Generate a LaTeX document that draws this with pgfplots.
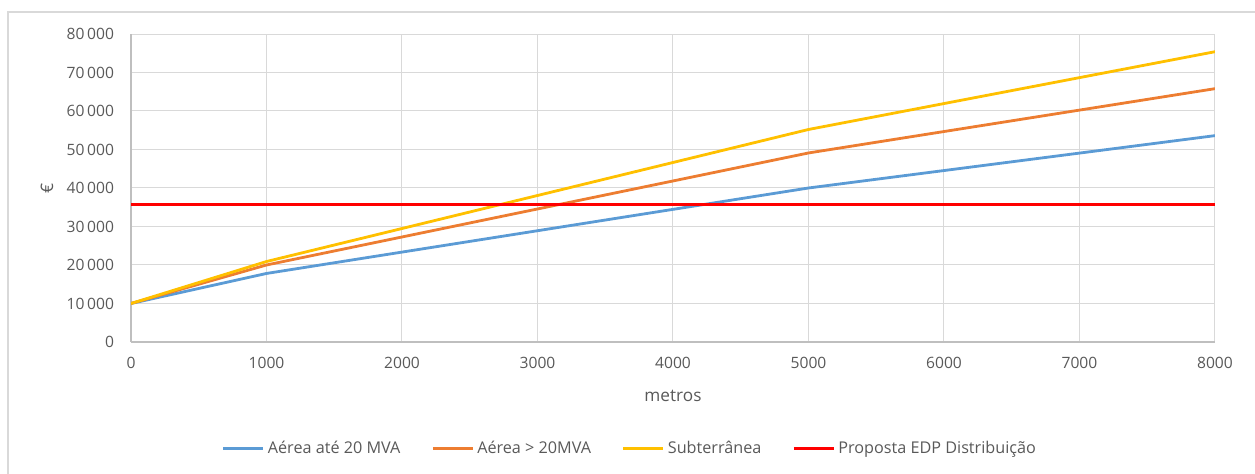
\documentclass[border=0pt]{standalone}
\usepackage{pgfplots}
\pgfplotsset{compat=1.18}
\usepackage{fontspec}
\setmainfont{Open Sans}
\definecolor{serA}{HTML}{5B9BD5}
\definecolor{serB}{HTML}{ED7D31}
\definecolor{serC}{HTML}{FFC000}
\definecolor{serD}{HTML}{FF0000}
\definecolor{txt}{HTML}{595959}
\definecolor{gridc}{HTML}{D9D9D9}
\definecolor{axc}{HTML}{BFBFBF}
\newcommand{\tickfont}{\fontsize{7.8}{9}\selectfont}
\newcommand{\legfont}{\fontsize{8.1}{9}\selectfont}
\newcommand{\titlefont}{\fontsize{8.6}{10}\selectfont}
\begin{document}
\begin{tikzpicture}
\useasboundingbox (0pt,0pt) rectangle (627.5pt,237pt);
% chart frame (left and top edges)
\draw[draw=gridc, line width=0.8pt] (4pt,0pt) -- (4pt,231pt) -- (627.5pt,231pt);
\begin{axis}[
  at={(65.5pt,66pt)}, anchor=south west,
  scale only axis, width=542pt, height=154pt,
  xmin=0, xmax=8000, ymin=0, ymax=80000,
  xtick={0,1000,...,8000}, ytick={0,10000,...,80000},
  axis x line*=bottom, axis y line*=left,
  axis line style={draw=axc, line width=0.6pt, -},
  grid=major, major grid style={draw=gridc, line width=0.5pt},
  major tick length=0pt,
  tick label style={text=txt, font=\tickfont},
  /pgf/number format/assume math mode=true,
  xticklabel style={/pgf/number format/1000 sep={}, yshift=-4pt},
  yticklabel style={/pgf/number format/1000 sep={\,}, xshift=-5pt},
  scaled y ticks=false, scaled x ticks=false,
  xlabel={metros}, ylabel={€},
  label style={text=txt, font=\titlefont},
  xlabel style={at={(axis description cs:0.5,-0.175)}, anchor=center},
  ylabel style={at={(axis description cs:-0.0775,0.5)}, anchor=center},
  legend columns=4,
  legend style={at={(axis description cs:0.4608,-0.347)}, anchor=center,
    draw=none, fill=none, text=txt, font=\legfont,
    inner sep=0pt,
    nodes={inner xsep=1.5pt},
    /tikz/every odd column/.append style={column sep=0pt},
    /tikz/every even column/.append style={column sep=14pt}},
  legend image code/.code={\draw[#1] (0pt,0pt) -- (20pt,0pt);},
  line join=round,
]
\addplot[serA, line width=1.4pt] coordinates {(0,10000) (1000,17800) (5000,40000) (8000,53600)};
\addlegendentry{Aérea até 20 MVA}
\addplot[serB, line width=1.4pt] coordinates {(0,10000) (1000,20000) (5000,49100) (8000,65800)};
\addlegendentry{Aérea > 20MVA}
\addplot[serC, line width=1.4pt] coordinates {(0,10000) (1000,20900) (5000,55200) (8000,75400)};
\addlegendentry{Subterrânea}
\addplot[serD, line width=1.5pt] coordinates {(0,35700) (8000,35700)};
\addlegendentry{Proposta EDP Distribuição}
\end{axis}
\end{tikzpicture}
\end{document}
